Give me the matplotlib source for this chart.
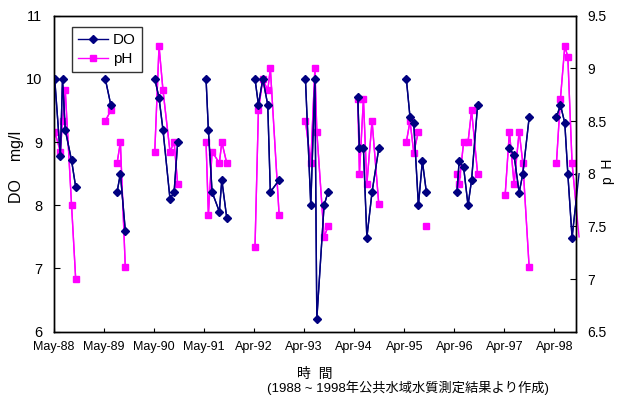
import numpy as np
import pandas as pd
import matplotlib
matplotlib.use("Agg")
import matplotlib.pyplot as plt
import matplotlib.dates as mdates

plt.rcParams['font.family'] = ['Liberation Sans', 'Noto Sans CJK JP', 'DejaVu Sans']

nan = np.nan

# sampling dates (gap rows break the line between seasons)
dates = [
    "1988-05-06", "1988-06-16", "1988-07-02", "1988-07-22", "1988-09-06", "1988-10-06", "1989-01-01",
    "1989-05-10", "1989-06-19", "1989-07-15", "1989-08-04", "1989-08-28", "1989-10-03", "1990-01-01",
    "1990-05-06", "1990-06-06", "1990-07-05", "1990-08-25", "1990-09-24", "1990-10-20", "1991-01-01",
    "1991-05-15", "1991-06-01", "1991-06-28", "1991-08-20", "1991-09-07", "1991-10-13", "1992-01-01",
    "1992-05-06", "1992-05-31", "1992-07-02", "1992-08-07", "1992-08-26", "1992-10-29", "1993-01-01",
    "1993-05-09", "1993-06-17", "1993-07-17", "1993-07-31", "1993-09-22", "1993-10-21", "1994-01-01",
    "1994-05-26", "1994-06-07", "1994-07-06", "1994-07-31", "1994-09-07", "1994-10-26", "1995-01-01",
    "1995-05-15", "1995-06-11", "1995-07-08", "1995-08-11", "1995-09-09", "1995-10-08", "1996-01-01",
    "1996-05-19", "1996-06-03", "1996-07-06", "1996-08-07", "1996-09-02", "1996-10-16", "1997-01-01",
    "1997-05-05", "1997-06-05", "1997-07-09", "1997-08-15", "1997-09-11", "1997-10-27", "1998-01-01",
    "1998-05-14", "1998-06-12", "1998-07-14", "1998-08-05", "1998-09-05", "1998-10-26",
]

do_vals = [
    10.0, 8.78, 10.0, 9.19, 8.71, 8.29, nan,
    10.0, 9.59, nan, 8.21, 8.50, 7.60, nan,
    10.0, 9.70, 9.19, 8.10, 8.21, 9.00, nan,
    10.0, 9.19, 8.21, 7.90, 8.40, 7.80, nan,
    10.0, 9.59, 10.0, 9.59, 8.21, 8.40, nan,
    10.0, 8.00, 10.0, 6.20, 8.00, 8.21, nan,
    9.71, 8.90, 8.90, 7.49, 8.21, 8.90, nan,
    10.0, 9.39, 9.30, 8.00, 8.70, 8.21, nan,
    8.21, 8.70, 8.60, 8.00, 8.40, 9.59, nan,
    nan, 8.91, 8.79, 8.20, 8.50, 9.39, nan,
    9.39, 9.59, 9.30, 8.50, 7.49, 8.50,
]

ph_vals = [
    8.40, 8.21, 8.50, 8.79, 7.70, 7.00, nan,
    8.50, 8.60, nan, 8.10, 8.30, 7.11, nan,
    8.21, 9.21, 8.79, 8.21, 8.30, 7.90, nan,
    8.30, 7.61, 8.21, 8.10, 8.30, 8.10, nan,
    7.30, 8.60, 8.90, 8.79, 9.00, 7.61, nan,
    8.50, 8.10, 9.00, 8.40, 7.40, 7.50, nan,
    8.71, 8.00, 8.71, 7.90, 8.50, 7.71, nan,
    8.30, 8.50, 8.20, 8.40, nan, 7.50, nan,
    8.00, 7.90, 8.30, 8.30, 8.60, 8.00, nan,
    7.80, 8.40, 7.90, 8.40, 8.10, 7.11, nan,
    8.10, 8.71, 9.21, 9.11, 8.10, 7.40,
]

x = pd.to_datetime(dates)
start = pd.Timestamp("1988-05-01")
tick_dates = [start + pd.Timedelta(days=365 * k) for k in range(11)]

fig = plt.figure(figsize=(6.26, 3.99), dpi=100)
ax = fig.add_axes([0.0863, 0.1687, 0.8339, 0.792])
ax2 = ax.twinx()
ax.set_zorder(ax2.get_zorder() + 1)
ax.patch.set_visible(False)

navy = "#000080"
magenta = "#FF00FF"

ax2.plot(x, ph_vals, color=magenta, lw=1, marker="s", ms=4.8, mec=magenta, mfc=magenta)
ax2.plot(x, ph_vals, color=magenta, lw=1, clip_on=False)
ax.plot(x, do_vals, color=navy, lw=1, marker="D", ms=4.2, mec=navy, mfc=navy)
ax.plot(x, do_vals, color=navy, lw=1, clip_on=False)

ax.set_xlim(start, start + pd.Timedelta(days=3808))
ax.set_ylim(6, 11)
ax2.set_ylim(6.5, 9.5)
ax.set_yticks([6, 7, 8, 9, 10, 11])
ax2.set_yticks([6.5, 7, 7.5, 8, 8.5, 9, 9.5])
ax2.set_yticklabels(["6.5", "7", "7.5", "8", "8.5", "9", "9.5"])

ax.set_xticks(tick_dates)
ax.xaxis.set_major_formatter(mdates.DateFormatter("%b-%y"))
ax.tick_params(axis="x", direction="in", length=3, labelsize=9, pad=7)
ax.tick_params(axis="y", direction="in", length=4, labelsize=10.5, pad=8.6)
ax2.tick_params(axis="y", direction="in", length=4, labelsize=10, pad=8)

for a in (ax, ax2):
    for s in a.spines.values():
        s.set_linewidth(1)

# axis titles placed in figure pixels
fig.text(17 / 626, 1 - 167 / 399, "DO    mg/l", fontsize=11.5, rotation=90,
         ha="center", va="center")
fig.text(608 / 626, 1 - 171 / 399, "p  H", fontsize=10, rotation=90,
         ha="center", va="center")
ax.set_xlabel("時  間", fontsize=10, labelpad=10)
fig.text(267 / 626, 1 - 388 / 399, "(1988 ~ 1998年公共水域水質測定結果より作成)",
         fontsize=9.5, ha="left", va="center")

h1 = plt.Line2D([], [], color=navy, lw=1, marker="D", ms=4.2)
h2 = plt.Line2D([], [], color=magenta, lw=1, marker="s", ms=4.8)
leg = ax.legend([h1, h2], ["DO", "pH"], loc="upper left", bbox_to_anchor=(0.034, 0.965),
                borderaxespad=0, fontsize=11, frameon=True, fancybox=False,
                handlelength=2.0, handletextpad=0.3, borderpad=0.4, labelspacing=0.35)
leg.get_frame().set_edgecolor("black")
leg.get_frame().set_linewidth(1)

fig.savefig("out.png", dpi=100)
